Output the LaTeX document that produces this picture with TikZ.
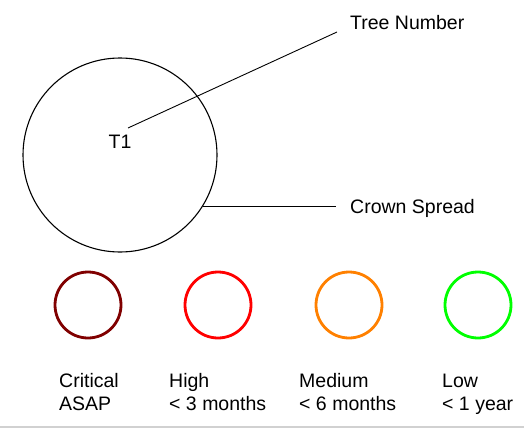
\documentclass[tikz,border=0pt]{standalone}
\usepackage{fontspec}
\setmainfont{Liberation Sans}
\definecolor{critical}{RGB}{128,0,0}
\definecolor{high}{RGB}{255,0,0}
\definecolor{medium}{RGB}{255,128,0}
\definecolor{low}{RGB}{0,255,0}
\tikzset{
  prio/.style={circle,minimum size=66pt,inner sep=0pt,line width=2.8pt},
  lbl/.style={inner sep=0pt,font=\fontsize{19.5}{22.5}\selectfont}
}
\begin{document}
\begin{tikzpicture}[x=1pt,y=-1pt]
   \useasboundingbox (0,0) rectangle (524,428);
   \fill[black!18] (0,425.5) rectangle (524,428);
   \node (crown) at (120,155) [circle,draw,line width=1.1pt,minimum size=194pt,inner sep=0pt] {};
   \node (tree) at (120,148) [lbl,anchor=base] {T1};
   \coordinate (treetip) at (128,128);
   \node (treenum) at (350,30) [lbl,anchor=base west] {Tree Number};
   \node (spread) at (350,213) [lbl,anchor=base west] {Crown Spread};
   \draw[line width=0.9pt] (treetip) -- ([shift={(-13,2)}]treenum.base west);
   \draw[line width=0.9pt,shorten >=14pt] (crown.-32) -- (crown.-32 -| spread.west);
   \node (crit) at (88,305) [prio,draw=critical] {};
   \node (high) at (218,305) [prio,draw=high] {};
   \node (med) at (349,305) [prio,draw=medium] {};
   \node (low) at (478,305) [prio,draw=low] {};
   \node (critlbl) at (59,410) [lbl,anchor=base west,align=left] {Critical\\ASAP};
   \node (highlbl) at (169,410) [lbl,anchor=base west,align=left] {High\\< 3 months};
   \node (medlbl) at (299,410) [lbl,anchor=base west,align=left] {Medium\\< 6 months};
   \node (lowlbl) at (442,410) [lbl,anchor=base west,align=left] {Low\\< 1 year};
  \end{tikzpicture}
\end{document}
